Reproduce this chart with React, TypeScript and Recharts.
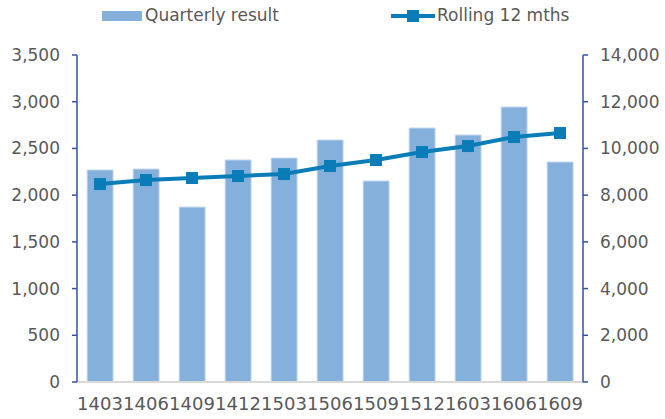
import React from "react";
import { ComposedChart, Bar, Line, XAxis, YAxis, Legend } from "recharts";

const quarters = ["1403", "1406", "1409", "1412", "1503", "1506", "1509", "1512", "1603", "1606", "1609"];
const quarterlyResult = [2270, 2280, 1873, 2377, 2398, 2591, 2152, 2719, 2644, 2944, 2355];
const rolling12 = [8476, 8647, 8733, 8818, 8904, 9247, 9503, 9846, 10103, 10488, 10659];
const leftTicks = [0, 500, 1000, 1500, 2000, 2500, 3000, 3500];
const rightTicks = [0, 2000, 4000, 6000, 8000, 10000, 12000, 14000];

const data = quarters.map((q, i) => ({
  q,
  quarterly: quarterlyResult[i],
  rolling: rolling12[i],
}));

const BAR = "#86b0dc";
const LINE = "#0a7db8";
const AXIS = "#2f55a4";
const TEXT = "#595959";
const FONT = "'DejaVu Sans', Verdana, sans-serif";

const fmt = (v: number) => v.toLocaleString("en-US");

const LegendBox = () => (
  <div style={{ position: "relative", height: 34, fontFamily: FONT, fontSize: 17, color: TEXT }}>
    <div style={{ position: "absolute", left: 102, top: 11, width: 40, height: 10, background: BAR }} />
    <div style={{ position: "absolute", left: 145, top: 5 }}>Quarterly result</div>
    <svg style={{ position: "absolute", left: 391, top: 9 }} width={44} height={14}>
      <line x1={0} y1={7} x2={44} y2={7} stroke={LINE} strokeWidth={4} />
      <rect x={16} y={1} width={12} height={12} fill={LINE} />
    </svg>
    <div style={{ position: "absolute", left: 437, top: 5 }}>Rolling 12 mths</div>
  </div>
);

const Square = (props: any) => {
  const { cx, cy } = props;
  if (cx == null || cy == null) return null;
  return <rect x={cx - 6} y={cy - 6} width={12} height={12} fill={LINE} />;
};

export default function App() {
  return (
    <div style={{ position: "absolute", left: 0, top: 0, background: "#fff" }}>
      <ComposedChart
        width={665}
        height={419}
        data={data}
        margin={{ top: 21, right: 0, bottom: 0, left: 0 }}
        barCategoryGap="22%"
      >
        <Legend
          verticalAlign="top"
          content={<LegendBox />}
          wrapperStyle={{ top: 0, left: 0, width: 665, height: 34 }}
        />
        <XAxis
          dataKey="q"
          tickLine={false}
          axisLine={{ stroke: "#d9d9d9", strokeWidth: 2 }}
          tick={{ fill: TEXT, fontSize: 18, fontFamily: FONT }}
          tickMargin={9}
          height={37}
          interval={0}
        />
        <YAxis
          yAxisId="left"
          domain={[0, 3500]}
          ticks={leftTicks}
          tickFormatter={fmt}
          width={77}
          axisLine={{ stroke: AXIS, strokeWidth: 1.5 }}
          tickLine={{ stroke: AXIS, strokeWidth: 1.5 }}
          tickSize={5}
          tickMargin={12}
          tick={{ fill: TEXT, fontSize: 17, fontFamily: FONT }}
          interval={0}
        />
        <YAxis
          yAxisId="right"
          orientation="right"
          domain={[0, 14000]}
          ticks={rightTicks}
          tickFormatter={fmt}
          width={82}
          axisLine={{ stroke: AXIS, strokeWidth: 1.5 }}
          tickLine={{ stroke: AXIS, strokeWidth: 1.5 }}
          tickSize={5}
          tickMargin={12}
          tick={{ fill: TEXT, fontSize: 17, fontFamily: FONT }}
          interval={0}
        />
        <Bar
          yAxisId="left"
          dataKey="quarterly"
          fill={BAR}
          stroke="#c9dcf0"
          strokeWidth={1}
          isAnimationActive={false}
        />
        <Line
          yAxisId="right"
          dataKey="rolling"
          stroke={LINE}
          strokeWidth={4}
          dot={<Square />}
          activeDot={false}
          isAnimationActive={false}
        />
      </ComposedChart>
    </div>
  );
}
